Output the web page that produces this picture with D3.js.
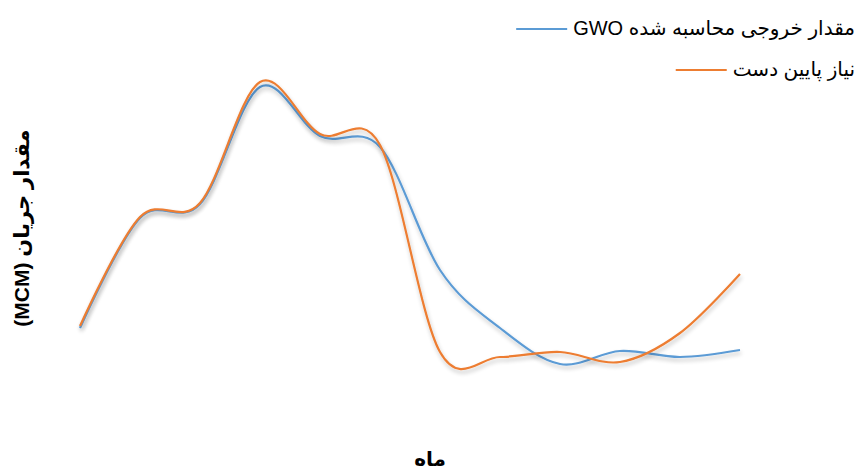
<!DOCTYPE html>
<html><head><meta charset="utf-8">
<script src="https://cdn.jsdelivr.net/npm/d3@7"></script>
<style>
html,body{margin:0;padding:0;background:#fff;}
text{font-family:"Liberation Sans","DejaVu Sans",Arial,sans-serif;}
</style></head>
<body><svg id="chart" width="866" height="473"></svg>
<script>
const months = [1,2,3,4,5,6,7,8,9,10,11,12];
const gwoValues = [72,182,196,313,264,253,130,72,36,49,43,50];
const demandValues = [74,183,197,318,266,255,48,43,48,38,67,126];
const seriesNames = ["مقدار خروجی محاسبه شده GWO","نیاز پایین دست"];
const seriesColors = ["#5B9BD5","#ED7D31"];
const xTitle = "ماه";
const yTitle = "مقدار جریان (MCM)";

const svg = d3.select("#chart");
const x = d3.scaleLinear().domain([1,12]).range([80,740]);
const y = d3.scaleLinear().domain([0,350]).range([400,50]);

const defs = svg.append("defs");
const f = defs.append("filter").attr("id","sh").attr("x","-10%").attr("y","-10%").attr("width","120%").attr("height","130%");
f.append("feGaussianBlur").attr("in","SourceAlpha").attr("stdDeviation",2).attr("result","b");
f.append("feOffset").attr("in","b").attr("dx",1).attr("dy",3).attr("result","o");
f.append("feComponentTransfer").attr("in","o").attr("result","o2").append("feFuncA").attr("type","linear").attr("slope",0.25);
const m = f.append("feMerge"); m.append("feMergeNode").attr("in","o2"); m.append("feMergeNode").attr("in","SourceGraphic");

const line = d3.line().x((d,i)=>x(months[i])).y(d=>y(d)).curve(d3.curveCardinal.tension(0));
[gwoValues, demandValues].forEach((vals,k)=>{
  svg.append("path").datum(vals).attr("d",line).attr("fill","none")
    .attr("stroke",seriesColors[k]).attr("stroke-width",2.2).attr("filter","url(#sh)");
});

// legend
const legY = [29,70];
seriesNames.forEach((name,k)=>{
  const t = svg.append("text").attr("x",855).attr("y",legY[k]+6)
    .attr("direction","rtl").attr("text-anchor","start")
    .attr("font-size",20).attr("fill","#000").text(name);
  const bb = t.node().getBBox();
  svg.append("line").attr("x1",bb.x-57).attr("x2",bb.x-6).attr("y1",legY[k]).attr("y2",legY[k])
    .attr("stroke",seriesColors[k]).attr("stroke-width",2.2);
});

svg.append("text").attr("transform","translate(29,228) rotate(-90)")
  .attr("direction","rtl").attr("text-anchor","middle").attr("font-size",21).attr("font-weight","bold")
  .text(yTitle);
svg.append("text").attr("x",430).attr("y",466).attr("direction","rtl").attr("text-anchor","middle")
  .attr("font-size",20).attr("font-weight","bold").text(xTitle);
</script></body></html>
